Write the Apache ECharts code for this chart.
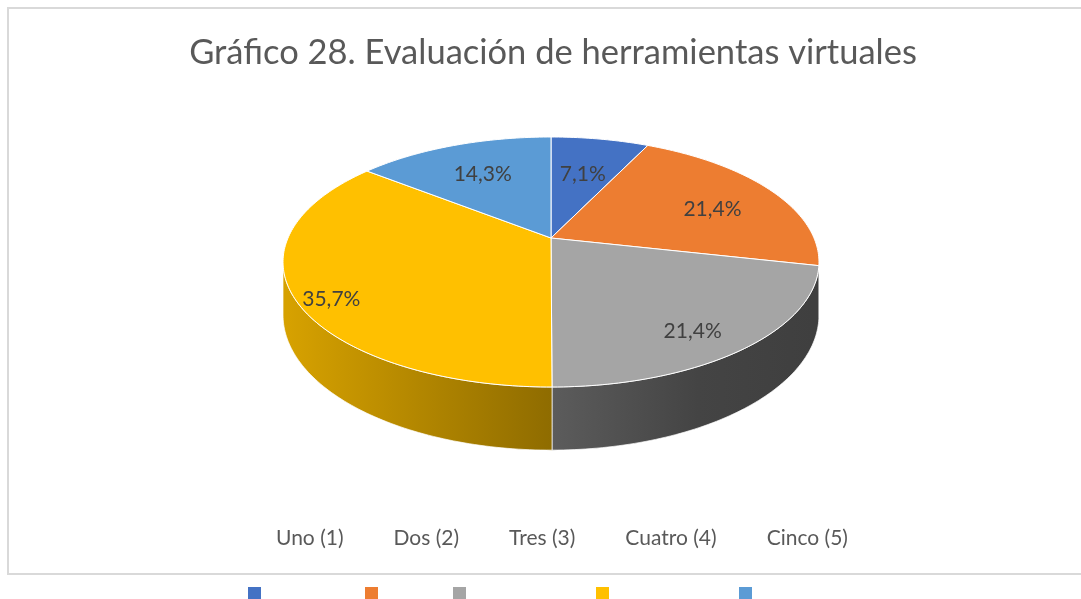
<!DOCTYPE html>
<html>
<head>
<meta charset="utf-8">
<script src="https://cdn.jsdelivr.net/npm/echarts@6/dist/echarts.min.js"></script>
<style>
  html, body { margin: 0; padding: 0; background: #fff; }
  #chart { width: 1081px; height: 599px; }
</style>
</head>
<body>
<div id="chart"></div>
<script>
var titleText = 'Gráfico 28. Evaluación de herramientas virtuales';
var categories = ['Uno (1)', 'Dos (2)', 'Tres (3)', 'Cuatro (4)', 'Cinco (5)'];
var percentages = [7.1, 21.4, 21.4, 35.7, 14.3];
var colors = ['#4472c4', '#ed7d31', '#a5a5a5', '#ffc000', '#5b9bd5'];

// geometria del pastel 3d (un poco de perspectiva)
var CX = 551, CY = 238, RX = 263, RY = 120.4, K = 0.192, DEPTH = 51;
var FONT = 'Lato, "Open Sans", sans-serif';

var total = percentages.reduce(function (a, b) { return a + b }, 0);
var starts = [], ends = [];
var acc = 0;
for (var i = 0; i < percentages.length; i++) {
  starts.push(acc / total * 360);
  acc += percentages[i];
  ends.push(acc / total * 360);
}

// lado visible del cilindro
var SIDE_L = Math.acos(-K) * 180 / Math.PI;
var SIDE_R = 360 - SIDE_L;

function project(deg, r, down) {
  var t = deg * Math.PI / 180;
  var X = r * Math.sin(t), Z = r * Math.cos(t);
  var d = 1 + K * Z;
  return [CX + X * RX / d, CY - Z * RY / d + (down ? DEPTH / d : 0)];
}
function arc(a, b, down) {
  var pts = [];
  var n = Math.max(2, Math.ceil(b - a));
  for (var j = 0; j <= n; j++) pts.push(project(a + (b - a) * j / n, 1, down));
  return pts;
}
function shade(hex, f) {
  var n = parseInt(hex.slice(1), 16);
  var r = Math.round(((n >> 16) & 255) * f);
  var g = Math.round(((n >> 8) & 255) * f);
  var b = Math.round((n & 255) * f);
  return 'rgb(' + r + ',' + g + ',' + b + ')';
}
function fmt(v) {
  return v.toFixed(1).replace('.', ',') + '%';
}

function renderSlice(params, api) {
  var a = api.value(0), b = api.value(1), v = api.value(2);
  var color = api.visual('color');
  var children = [];

  var sa = Math.max(a, SIDE_L), sb = Math.min(b, SIDE_R);
  if (sb > sa) {
    var top = arc(sa, sb, false);
    var bottom = arc(sa, sb, true).reverse();
    children.push({
      type: 'polygon',
      z2: 1,
      shape: { points: top.concat(bottom) },
      style: {
        fill: new echarts.graphic.LinearGradient(CX - RX, 0, CX + RX, 0, [
          { offset: 0, color: shade(color, 0.84) },
          { offset: 0.5, color: shade(color, 0.56) },
          { offset: 0.78, color: shade(color, 0.41) },
          { offset: 1, color: shade(color, 0.38) }
        ], true),
        stroke: 'rgba(255,255,255,0.7)',
        lineWidth: 1
      }
    });
  }

  children.push({
    type: 'polygon',
    z2: 10,
    shape: { points: [[CX, CY]].concat(arc(a, b, false)) },
    style: { fill: color, stroke: '#fff', lineWidth: 1 }
  });

  // etiqueta: mas afuera en porciones grandes, algo mas abajo hacia el frente
  var mid = (a + b) / 2;
  var c = Math.cos(mid * Math.PI / 180);
  var front = Math.max(0, -c);
  var lp = project(mid, 0.55 + 0.00225 * (b - a) + 0.05 * front, false);
  children.push({
    type: 'text',
    z2: 20,
    x: lp[0],
    y: lp[1] + 12 * Math.min(1, 1 - c),
    style: {
      text: fmt(v),
      fill: '#404040',
      font: '21px ' + FONT,
      align: 'center',
      verticalAlign: 'middle'
    }
  });

  return { type: 'group', children: children };
}

var series = categories.map(function (name, i) {
  return {
    type: 'custom',
    name: name,
    coordinateSystem: 'none',
    renderItem: renderSlice,
    itemStyle: { color: colors[i] },
    data: [[starts[i], ends[i], percentages[i]]],
    silent: true
  };
});

// cuadritos de la leyenda (quedan debajo del marco)
var squareX = [248, 365, 453, 596, 739];
var graphics = [{
  type: 'rect',
  shape: { x: 8, y: 8, width: 1100, height: 566 },
  style: { fill: 'none', stroke: '#d9d9d9', lineWidth: 2 },
  z: -1
}];
for (var s = 0; s < squareX.length; s++) {
  graphics.push({
    type: 'rect',
    shape: { x: squareX[s], y: 587, width: 13, height: 13 },
    style: { fill: colors[s] }
  });
}

var myChart = echarts.init(document.getElementById('chart'));
myChart.setOption({
  animation: false,
  title: {
    text: titleText,
    left: 548,
    top: 30,
    textAlign: 'center',
    textStyle: { color: '#595959', fontSize: 34.5, fontWeight: 'normal', fontFamily: FONT }
  },
  legend: {
    left: 266,
    top: 523,
    icon: 'none',
    itemWidth: 0,
    itemHeight: 14,
    itemGap: 45,
    selectedMode: false,
    textStyle: { color: '#595959', fontSize: 21, fontFamily: FONT },
    data: categories
  },
  graphic: graphics,
  series: series
});
</script>
</body>
</html>
